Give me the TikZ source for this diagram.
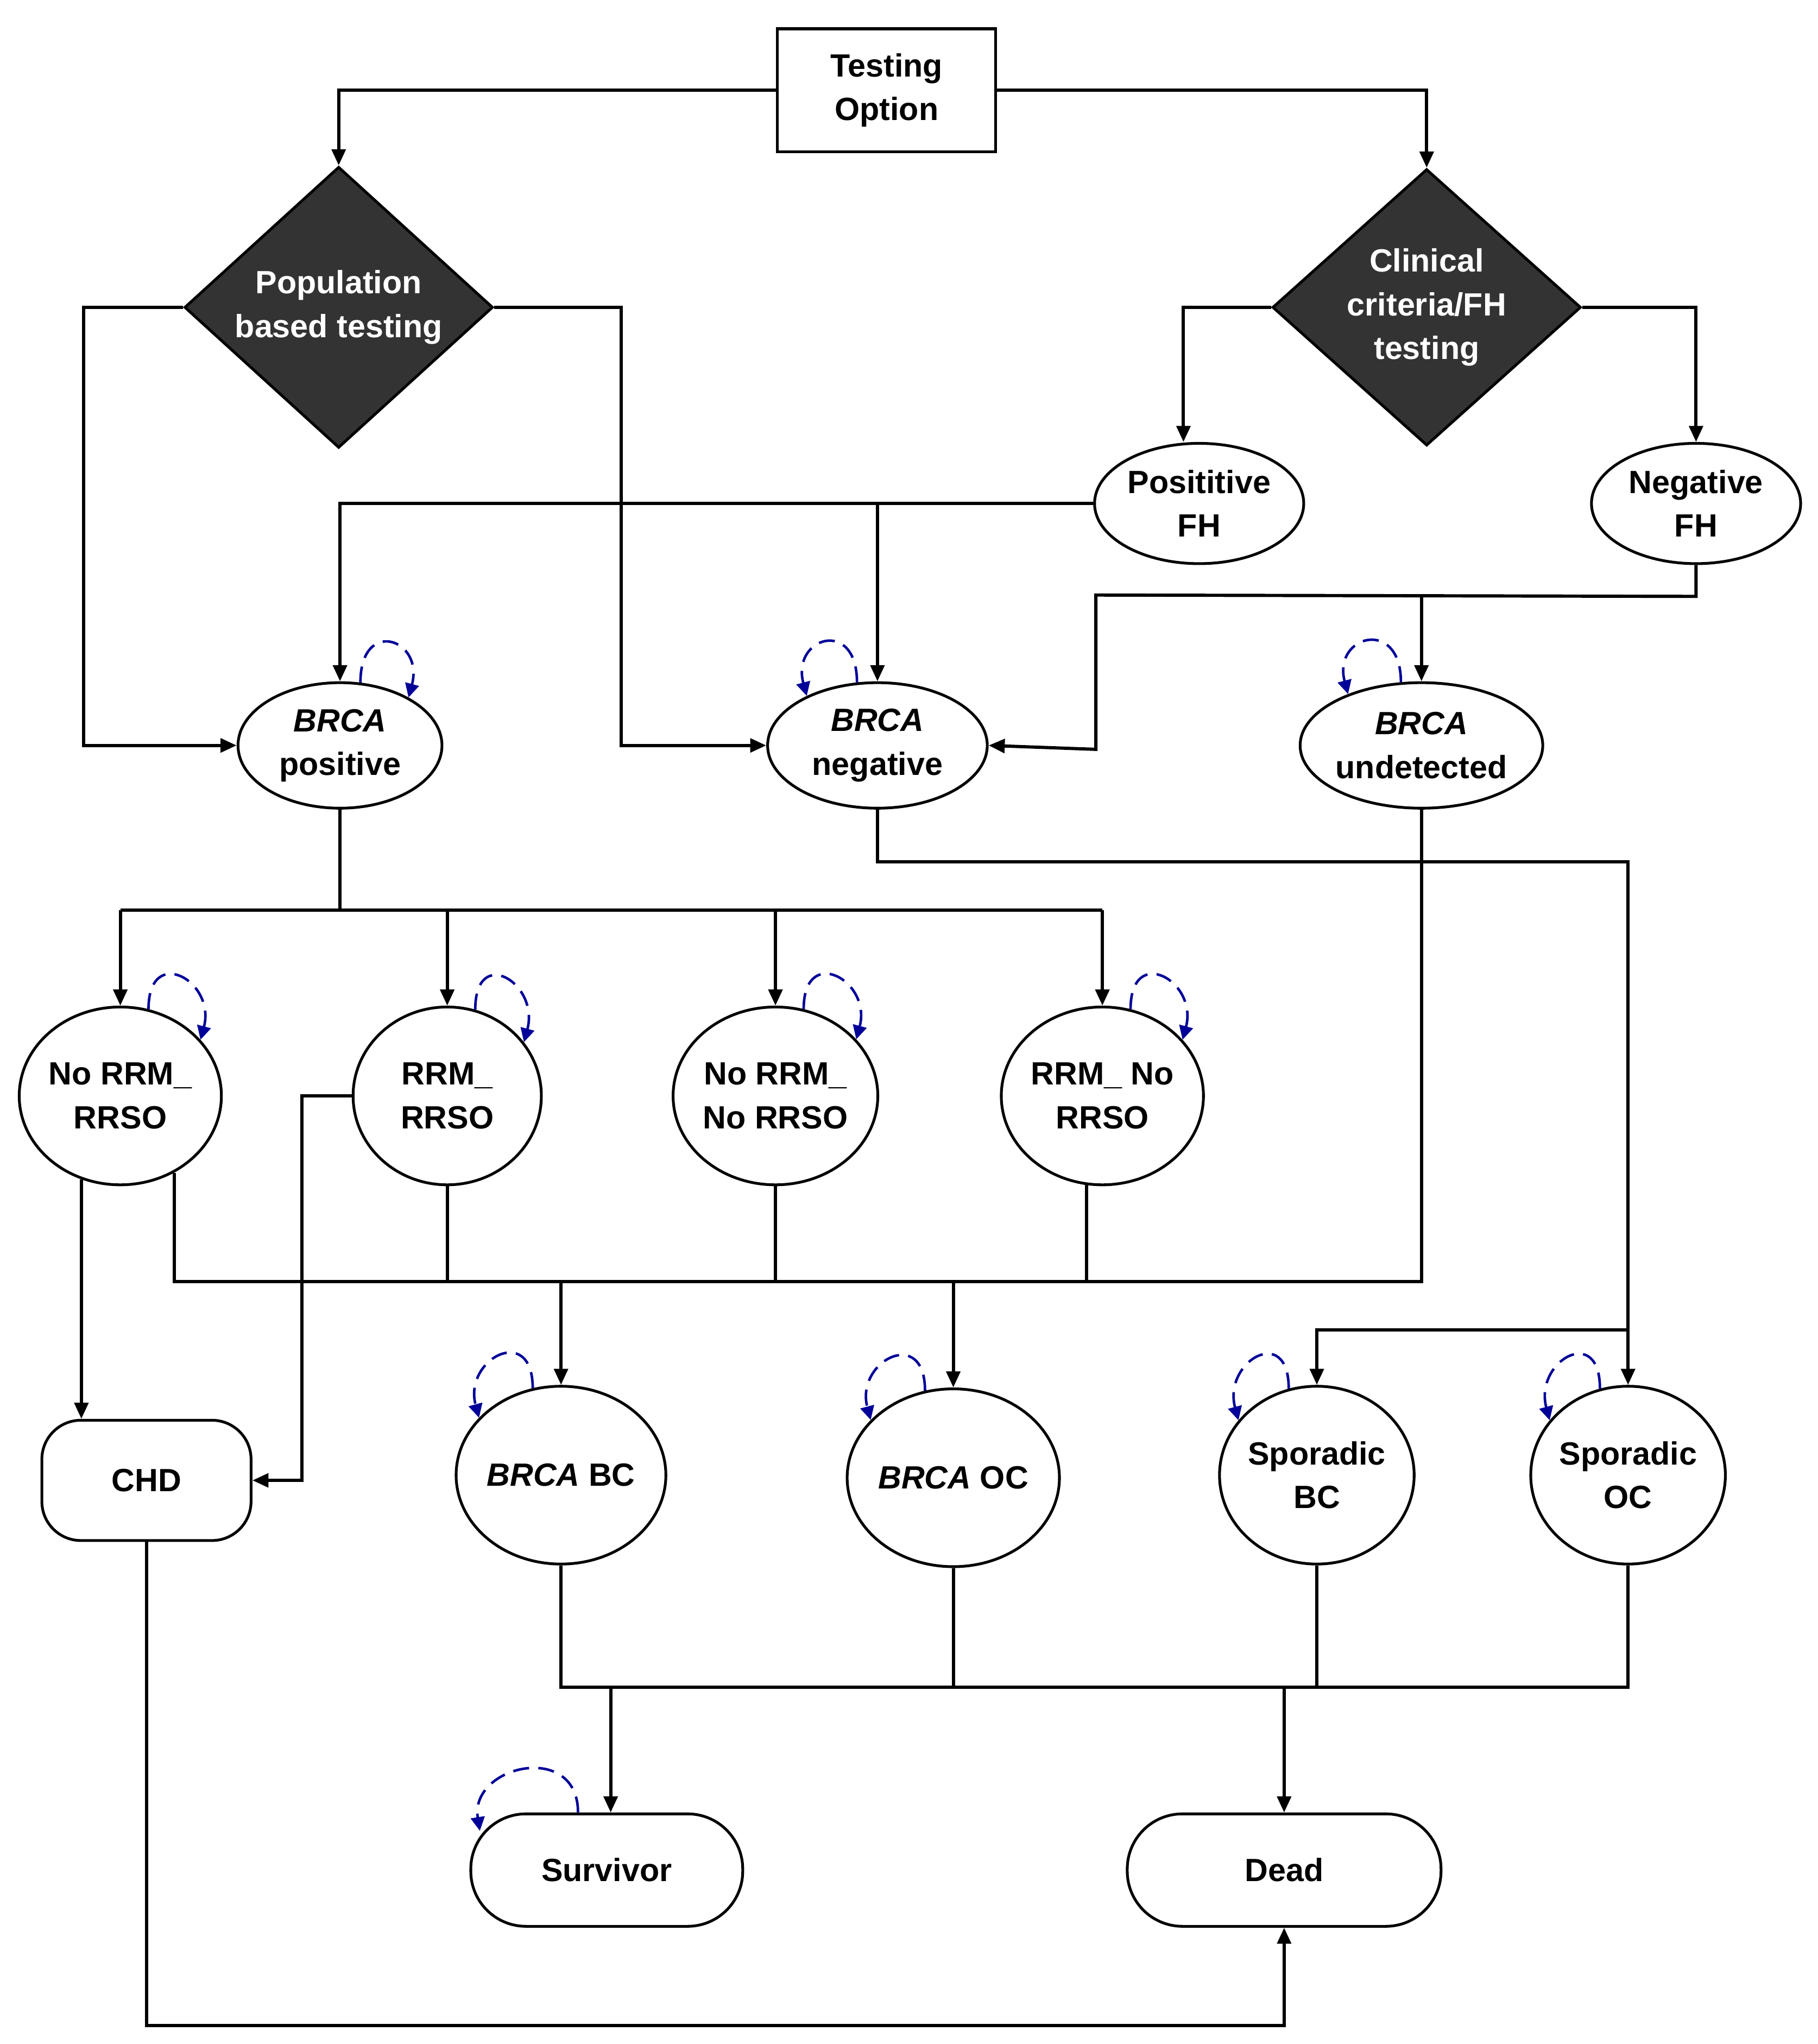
\documentclass[tikz,border=0pt]{standalone}
\usepackage{fontspec}
\setmainfont{Liberation Sans}
\usetikzlibrary{shapes.geometric,arrows.meta,calc}
\begin{document}
\begin{tikzpicture}[x=0.02cm,y=-0.02cm,
  every node/.style={font=\fontsize{14}{19}\selectfont\bfseries,align=center,inner sep=0pt,line width=1.2pt,draw},
  ell/.style={ellipse},
  circ/.style={ellipse,minimum width=2.88cm,minimum height=2.72cm},
  dia/.style={diamond,fill=black!80,text=white,minimum width=4.72cm,minimum height=3.92cm},
  arr/.style={line width=1.4pt,-{Triangle[length=7pt,width=6pt]}},
  ln/.style={line width=1.4pt},
  sl/.style={line width=1.1pt,draw=blue!60!black,dash pattern=on 7pt off 4pt,-{Triangle[length=6pt,width=6pt,fill=blue!60!black]}}]
\path[use as bounding box,fill=white] (0,0) rectangle (1390,1563);
\node[minimum width=3.34cm,minimum height=1.88cm] (top) at (678,69) {Testing\\Option};
\node[dia] (pop) at (259,235) {Population\\based testing};
\node[dia] (cli) at (1091,235) {Clinical\\criteria/FH\\testing};
\node[ell,minimum width=3.2cm,minimum height=1.84cm] (pfh) at (917,385) {Posititive\\FH};
\node[ell,minimum width=3.2cm,minimum height=1.84cm] (nfh) at (1297,385) {Negative\\FH};
\node[ell,minimum width=3.12cm,minimum height=1.92cm] (bp) at (260,570) {\textit{BRCA}\\positive};
\node[ell,minimum width=3.36cm,minimum height=1.92cm] (bn) at (671,570) {\textit{BRCA}\\negative};
\node[ell,minimum width=3.6cm,minimum height=1.92cm] (bu) at (1087,570) {\textit{BRCA}\\undetected};
\node[circ] (c1) at (92,838) {No RRM\_\\RRSO};
\node[circ] (c2) at (342,838) {RRM\_\\RRSO};
\node[circ] (c3) at (593,838) {No RRM\_\\No RRSO};
\node[circ] (c4) at (843,838) {RRM\_ No\\RRSO};
\node[rounded corners=17pt,minimum width=3.2cm,minimum height=1.84cm] (chd) at (112,1132) {CHD};
\node[circ] (bbc) at (429,1128) {\textit{BRCA} BC};
\node[circ] (boc) at (729,1130) {\textit{BRCA} OC};
\node[circ] (sbc) at (1007,1128) {Sporadic\\BC};
\node[circ] (soc) at (1245,1128) {Sporadic\\OC};
\node[rounded corners=24pt,minimum width=4.16cm,minimum height=1.72cm] (sur) at (464,1430) {Survivor};
\node[rounded corners=24pt,minimum width=4.8cm,minimum height=1.72cm] (dead) at (982,1430) {Dead};
\coordinate (bus) at (0,980);
\coordinate (bb) at (0,1290);
% top
\draw[arr] (top.west) -| (pop.north);
\draw[arr] (top.east) -| (cli.north);
\draw[arr] (pop.west) -- ++(-76,0) |- (bp.west);
\draw[arr] (pop.east) -- ++(97,0) |- (bn.west);
\draw[arr] (cli.west) -| ([xshift=-0.24cm]pfh.north);
\draw[arr] (cli.east) -| (nfh.north);
\draw[arr] (pfh.west) -| (bp.north);
\draw[arr] (bn.north |- pfh.west) -- (bn.north);
\draw[arr] (nfh.south) -- ++(0,24) coordinate (nj) -- (838,455) -- (838,573) -- (bn.east);
\draw[arr] (bu.north |- nj) -- (bu.north);
% brca positive bus
\draw[ln] (bp.south) -- ++(0,77) coordinate (b1);
\draw[ln] (c1.north |- b1) -- (c4.north |- b1);
\foreach \n in {c1,c2,c3,c4} \draw[arr] (\n.north |- b1) -- (\n.north);
% brca negative
\draw[arr] (bn.south) -- ++(0,40) -| (soc.north);
\draw[arr] ($(soc.north)+(0,-42)$) -| (sbc.north);
% middle bus
\draw[ln] (c1.-55) -- (c1.-55 |- bus) -- (bu.south |- bus) -- (bu.south);
\draw[ln] (c2.south) -- (c2.south |- bus);
\draw[ln] (c3.south) -- (c3.south |- bus);
\draw[ln] (c4.-100) -- (c4.-100 |- bus);
\draw[arr] (bbc.north |- bus) -- (bbc.north);
\draw[arr] (boc.north |- bus) -- (boc.north);
\draw[arr] (c1.-115) -- (c1.-115 |- chd.north);
\draw[arr] (c2.west) -- ++(-38,0) |- (chd.east);
% bottom bus
\draw[ln] (bbc.south) -- (bbc.south |- bb) -- (soc.south |- bb) -- (soc.south);
\draw[ln] (boc.south) -- (boc.south |- bb);
\draw[ln] (sbc.south) -- (sbc.south |- bb);
\draw[arr] ([xshift=0.06cm]sur.north |- bb) -- ([xshift=0.06cm]sur.north);
\draw[arr] (dead.north |- bb) -- (dead.north);
\draw[arr] (chd.south) -- ++(0,370) -| (dead.south);
% self loops
\foreach \n in {bp,c1,c2,c3,c4}
  \draw[sl] (\n.72) .. controls +(0,-50) and +(12,-45) .. (\n.35);
\foreach \n in {bn,bu,bbc,boc,sbc,soc}
  \draw[sl] (\n.108) .. controls +(0,-50) and +(-12,-45) .. (\n.145);
\draw[sl] ($(sur.north)+(-22,0)$) .. controls +(0,-55) and +(-8,-50) .. ($(sur.west)+(8,-30)$);
\end{tikzpicture}
\end{document}
